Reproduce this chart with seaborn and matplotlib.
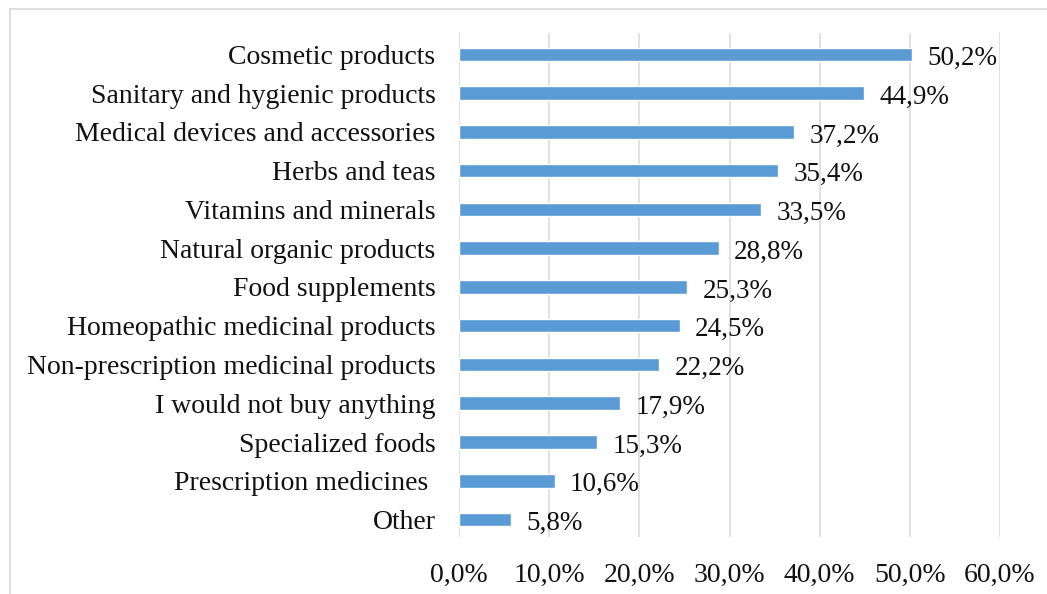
import matplotlib
matplotlib.use("Agg")
import matplotlib.pyplot as plt
import seaborn as sns
import pandas as pd
from matplotlib.patches import Rectangle

categories = [
    "Cosmetic products",
    "Sanitary and hygienic products",
    "Medical devices and accessories",
    "Herbs and teas",
    "Vitamins and minerals",
    "Natural organic products",
    "Food supplements",
    "Homeopathic medicinal products",
    "Non-prescription medicinal products",
    "I would not buy anything",
    "Specialized foods",
    "Prescription medicines ",
    "Other",
]
shares = [50.2, 44.9, 37.2, 35.4, 33.5, 28.8, 25.3, 24.5, 22.2, 17.9, 15.3, 10.6, 5.8]
x_ticks = [0, 10, 20, 30, 40, 50, 60]

df = pd.DataFrame({"category": categories, "share": shares})

sns.set_theme(style="white")
plt.rcParams["font.family"] = ["Liberation Serif", "DejaVu Serif"]

W, H = 1047, 594
FS = 20
fig = plt.figure(figsize=(W / 100, H / 100), dpi=100)
ax = fig.add_axes([459 / W, 1 - 537 / H, (1000 - 459) / W, (537 - 33) / H])

sns.barplot(data=df, x="share", y="category", orient="h", color="#5B9BD5",
            saturation=1, width=0.35, ax=ax, zorder=3)

ax.set_xlim(0, 60)
ax.set_ylim(len(categories) - 0.55, -0.55)
ax.set_xticks(x_ticks)
ax.set_xticklabels([f"{t:.1f}%".replace(".", ",") for t in x_ticks], fontsize=FS, color="#111111")
ax.tick_params(axis="x", length=0, pad=19)
ax.tick_params(axis="y", length=0, pad=17, labelsize=FS, labelcolor="#111111")
ax.set_xlabel("")
ax.set_ylabel("")
ax.grid(axis="x", color="#dcdcdc", linewidth=1.2, zorder=0)
ax.grid(axis="y", visible=False)
for s in ax.spines.values():
    s.set_visible(False)

for i, v in enumerate(shares):
    ax.annotate(f"{v:.1f}%".replace(".", ","), xy=(v, i), xytext=(11, -0.8),
                textcoords="offset points", va="center_baseline", ha="left",
                fontsize=19.5, color="#111111")

# outer frame of the chart area
fig.patches.append(Rectangle((10 / W, -0.1), 1.2, 1 - 9 / H + 0.1,
                             transform=fig.transFigure, fill=False,
                             edgecolor="#d9d9d9", linewidth=1.2))

fig.savefig("out.png", dpi=100, facecolor="white")
